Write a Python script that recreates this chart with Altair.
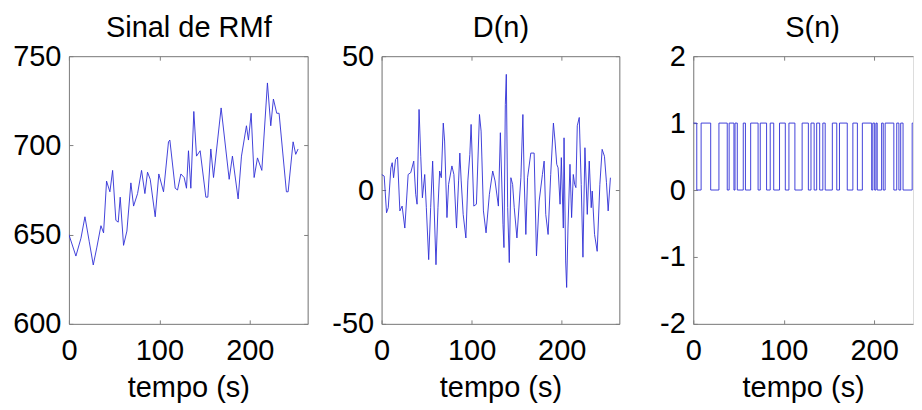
import altair as alt
import pandas as pd

FONT = "Liberation Sans"
LINE = "#2f2fd6"
GRAY = "#808080"
FS = 29

rmf_t = [0, 7.7, 13.3, 17.7, 22.5, 26.9, 30.9, 35.4, 38.3, 41.6, 45.3, 48.3, 51.9, 54.5, 56.7,
         60.4, 64.1, 68.5, 71.5, 75.9, 80.3, 84.0, 86.9, 89.9, 95.4, 99.4, 104.6, 110.1, 111.6,
         117.5, 120.1, 123.8, 127.4, 130.0, 132.2, 134.8, 138.1, 141.1, 145.1, 151.4, 153.6,
         156.9, 159.9, 168.3, 177.2, 180.8, 187.1, 190.8, 196.3, 198.5, 201.5, 204.8, 208.5,
         213.3, 219.5, 223.2, 226.1, 229.8, 232.4, 240.5, 242.4, 247.9, 250.8, 253.4]
rmf_v = [650, 638, 648, 660, 646, 633, 643, 655, 651, 680, 674, 686, 658, 657, 671,
         644, 652, 679, 666, 673, 686, 673, 685, 681, 660, 684, 674, 702, 703,
         676, 675, 684, 682, 676, 697, 676, 719, 694, 697, 671, 671,
         698, 682, 721, 681, 694, 670, 694, 711, 703, 718, 682, 693,
         686, 735, 711, 726, 718, 718, 674, 674, 702, 695, 698]

d_t = [0, 2.9, 5.5, 7.4, 10.3, 11.8, 13.3, 15.5, 17.7, 20.3,
       22.8, 25.8, 29.5, 32.4, 35.7, 37.9, 39.4, 41.6, 43.5, 45.3,
       47.9, 49.7, 52.3, 54.5, 56.7, 60.4, 62.6, 64.5, 66.3, 68.5,
       70.0, 72.6, 74.4, 78.1, 80.3, 83.2, 85.5, 86.9, 88.4, 90.6,
       93.6, 95.8, 98.0, 99.4, 102.4, 105.3, 108.7, 110.5, 113.1, 116.0,
       119.7, 123.4, 126.0, 129.7, 131.9, 134.8, 135.9, 137.4, 138.5, 140.0,
       141.8, 143.6, 145.5, 147.3, 150.3, 154.7, 156.9, 158.4, 160.2, 162.1,
       165.7, 169.4, 172.0, 175.0, 178.6, 180.5, 182.3, 184.9, 187.8, 190.8,
       192.6, 194.5, 196.0, 198.2, 199.6, 201.8, 202.6, 204.4, 205.5, 207.0,
       209.2, 211.0, 212.9, 214.4, 215.8, 217.3, 219.5, 221.7, 223.6, 225.8,
       228.4, 230.6, 232.8, 233.9, 236.5, 239.4, 242.4, 244.9, 247.5, 249.7,
       251.6, 254.1]
d_v = [5.8, 5.2, -8.5, -6.6, 8.3, 10.2, 4.6, 11.4, 12.3, -7.8,
       -6.0, -14.2, 5.8, 6.5, 10.8, -1.6, -5.3, 30.1, 12.6, -2.9,
       5.8, -6.6, -26.0, -6.6, 10.8, -27.9, -6.6, 7.1, 4.6, 25.0,
       18.3, -10.3, 2.1, 9.0, 5.8, -14.2, 3.4, 13.8, 3.4, -9.1,
       -17.9, 3.4, 13.3, 24.5, -6.0, -5.3, 28.2, 22.0, -7.8, -16.0,
       -1.6, 7.1, 3.4, -6.0, 21.4, -12.8, -21.5, 32.0, 43.2, -6.6,
       -27.1, 4.6, 2.1, -6.6, -17.9, 4.6, 28.2, 3.4, -16.6, 4.6,
       13.8, 13.8, -24.6, -4.1, 5.8, 10.8, -9.1, -16.6, 5.8, 25.0,
       18.3, 9.6, 8.3, -5.3, 12.1, -14.2, 19.5, -26.5, -36.4, -14.2,
       9.6, -10.3, 5.8, 2.1, 0.9, 24.0, 27.1, 2.1, -25.1, 15.8,
       -9.1, 10.8, -6.6, -0.4, -16.6, -22.9, 2.1, 15.2, 12.6, 2.9,
       -7.8, 4.6]

s_t = [0, 3.9, 8.7, 19.3, 28.4, 37.6, 39.7, 45.0, 46.2, 48.7,
       55.3, 57.7, 63.5, 71.7, 74.1, 81.1, 85.1, 89.0, 95.4, 101.8,
       105.8, 112.4, 120.4, 127.3, 130.2, 133.7, 136.5, 139.8, 143.3, 145.9,
       153.8, 158.7, 161.7, 170.3, 176.5, 181.5, 187.0, 197.3, 198.6, 200.6,
       202.1, 203.4, 208.3, 210.1, 212.2, 221.8, 225.0, 227.4, 229.4, 232.0,
       242.1, 250.2, 253.2, 255.0]
s_v = [1, 0, 1, 0, 1, 0, 1, 0, 1, 0,
       1, 0, 1, 0, 1, 0, 1, 0, 1, 0,
       1, 0, 1, 0, 1, 0, 1, 0, 1, 0,
       1, 0, 1, 0, 1, 0, 1, 0, 1, 0,
       1, 0, 1, 0, 1, 0, 1, 0, 1, 0,
       1, 0, 1, 1]

x_ticks = [0, 100, 200]
rmf_ticks = [600, 650, 700, 750]
d_ticks = [-50, 0, 50]
s_ticks = [-2, -1, 0, 1, 2]

titles = ["Sinal de RMf", "D(n)", "S(n)"]
x_title = "tempo (s)"
LBL_EXPR = "'' + datum.value"


def panel(df, title, xdom, ydom, yticks, width, right_border=True, interp="linear", title_x=None):
    xs = alt.Scale(domain=xdom, nice=False, zero=False)
    ys = alt.Scale(domain=ydom, nice=False, zero=False)
    lbl = dict(labelFont=FONT, labelFontSize=FS, labelColor="black", grid=False,
               labelExpr=LBL_EXPR)
    ttl = dict(titleFont=FONT, titleFontSize=FS, titleFontWeight="normal", titleColor="black")
    ghost = dict(strokeOpacity=0, clip=True, interpolate=interp)

    main = alt.Chart(df).mark_line(color=LINE, strokeWidth=0.9, clip=True, interpolate=interp).encode(
        x=alt.X("t:Q", scale=xs, axis=alt.Axis(
            orient="bottom", values=x_ticks, ticks=False, domain=True, domainColor=GRAY,
            labelPadding=13, labelFlush=False, title=x_title, titlePadding=8, **ttl, **lbl)),
        y=alt.Y("v:Q", scale=ys, axis=alt.Axis(
            orient="left", values=yticks, ticks=False, domain=True, domainColor=GRAY,
            labelPadding=8, title=None, **lbl)),
    )
    inner = alt.Chart(df).mark_line(**ghost).encode(
        x=alt.X("t:Q", scale=xs, axis=alt.Axis(
            orient="bottom", values=x_ticks, offset=-4, tickSize=4, tickColor=GRAY,
            domain=False, labels=False, grid=False, title=None)),
        y=alt.Y("v:Q", scale=ys, axis=alt.Axis(
            orient="left", values=yticks, offset=-4, tickSize=4, tickColor=GRAY,
            domain=False, labels=False, grid=False, title=None)),
    )
    top_axis = dict(orient="top", values=x_ticks, ticks=False, domain=True, domainColor=GRAY,
                    labels=False, grid=False, title=title, titleBaseline="alphabetic",
                    titlePadding=20, **ttl)
    if title_x is not None:
        top_axis["titleX"] = title_x
    top_enc = dict(x=alt.X("t:Q", scale=xs, axis=alt.Axis(**top_axis)))
    top_tick_enc = dict(x=alt.X("t:Q", scale=xs, axis=alt.Axis(
        orient="top", values=x_ticks, offset=-4, tickSize=4, tickColor=GRAY,
        domain=False, labels=False, grid=False, title=None)))
    if right_border:
        top_enc["y"] = alt.Y("v:Q", scale=ys, axis=alt.Axis(
            orient="right", values=yticks, ticks=False, domain=True, domainColor=GRAY,
            labels=False, grid=False, title=None))
        top_tick_enc["y"] = alt.Y("v:Q", scale=ys, axis=alt.Axis(
            orient="right", values=yticks, offset=-4, tickSize=4, tickColor=GRAY,
            domain=False, labels=False, grid=False, title=None))
    else:
        top_enc["y"] = alt.Y("v:Q", scale=ys, axis=None)
        top_tick_enc["y"] = alt.Y("v:Q", scale=ys, axis=None)
    top = alt.Chart(df).mark_line(**ghost).encode(**top_enc)
    top_ticks = alt.Chart(df).mark_line(**ghost).encode(**top_tick_enc)

    return alt.layer(main, inner, top, top_ticks).resolve_axis(
        x="independent", y="independent"
    ).properties(width=width, height=268)


df1 = pd.DataFrame({"t": rmf_t, "v": rmf_v})
df2 = pd.DataFrame({"t": d_t, "v": d_v})
df3 = pd.DataFrame({"t": s_t, "v": s_v})

p1 = panel(df1, titles[0], [0, 264], [600, 750], rmf_ticks, 239)
p2 = panel(df2, titles[1], [0, 264], [-50, 50], d_ticks, 238)
p3 = panel(df3, titles[2], [0, 243], [-2, 2], s_ticks, 220, right_border=False,
           interp="step-after", title_x=119)

chart = alt.hconcat(p1, p2, p3, spacing=74, bounds="flush").properties(
    padding={"left": 4, "top": 4, "right": 0, "bottom": 4}
).configure_view(stroke=None).configure(font=FONT, background="white")

chart.save("out.html", embed_options={"renderer": "svg", "actions": False})
